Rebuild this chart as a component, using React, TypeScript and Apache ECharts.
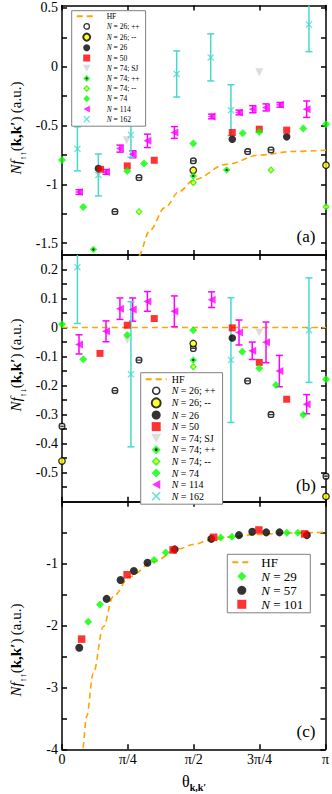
import React, { useEffect, useRef } from 'react';
import * as echarts from 'echarts';

const FONT = 'Liberation Serif';

// ---- axis ticks / labels ----
const xTickLabels = ['0', 'π/4', 'π/2', '3π/4', 'π'];
const yTicksA = [-1.5, -1.25, -1, -0.75, -0.5, -0.25, 0, 0.25, 0.5];
const yLabelsA = [-1.5, -1, -0.5, 0, 0.5];
const yTicksB = [-0.55, -0.5, -0.45, -0.4, -0.35, -0.3, -0.25, -0.2, -0.15, -0.1, -0.05, 0, 0.05, 0.1, 0.15, 0.2];
const yLabelsB = [-0.5, -0.4, -0.3, -0.2, -0.1, 0, 0.1, 0.2];
const yTicksC = [-4, -3.5, -3, -2.5, -2, -1.5, -1, -0.5];
const yLabelsC = [-4, -3, -2, -1];

// ---- panel (a): N f_{↑↑} ----  x in degrees (0..180 = 0..π)
const aHF = [[47, -1.85], [52, -1.61], [60, -1.39], [70, -1.2], [80, -1.06], [90, -0.96], [112, -0.83], [135, -0.75], [158, -0.72], [180, -0.71]];
const aN26pp = [[36.1, -1.232], [52.5, -0.943], [89.5, -0.8], [126.6, -0.721], [142.5, -0.707]];
const aN26mm = [[89.5, -0.88], [180, -0.837]];
const aN26 = [[24.8, -0.865], [116.1, -0.616], [153.2, -0.596]];
const aN50 = [[26.3, -0.872], [44.5, -0.843], [62.9, -0.795], [116.1, -0.559], [134.5, -0.531], [153.2, -0.539]];
const aN74SJ = [[44.1, -0.625], [134.5, -0.048]];
const aN74pp = [[21.4, -1.553], [89.5, -0.928], [112.3, -0.877]];
const aN74mm = [[52.5, -1.232], [89.5, -0.985], [142.5, -0.877], [180, -1.19]];
const aN74 = [[0, -0.792], [14.5, -1.193], [44.5, -0.886], [55.9, -0.823], [89.5, -0.653], [123.2, -0.565], [134.5, -0.554], [164.5, -0.525], [180, -0.488]];
const aN114 = [[11.6, -1.065, 0.02], [30, -0.894, 0.02], [39.5, -0.696, 0.03], [48.2, -0.744, 0.03], [58.2, -0.63, 0.057], [76.6, -0.559, 0.05], [102, -0.423, 0.02], [120.7, -0.389, 0.02], [130, -0.361, 0.03], [139.1, -0.346, 0.03], [148.6, -0.324, 0.02], [166.8, -0.361, 0.07]];
const aN162 = [[10.5, -0.698, 0.187], [24.8, -0.92, 0.178], [47, -0.579, 0.19], [78.2, -0.062, 0.196], [101.4, 0.079, 0.2], [115.2, -0.369, 0.216], [168.4, 0.358, 0.23]];

// ---- panel (b): N f_{↑↓} ----
const bHF = [[0, 0], [180, 0]];
const bN26pp = [[0, -0.34], [36.1, -0.217], [52.5, -0.112], [89.5, -0.072], [126.6, -0.184], [142.5, -0.3], [180, -0.512]];
const bN26mm = [[0, -0.46], [89.5, -0.055], [180, -0.582]];
const bN26 = [[116.1, -0.036]];
const bN50 = [[25.9, -0.089], [44.5, 0.008], [62.9, 0.031], [116.1, -0.001], [134.5, -0.12], [153.2, -0.247]];
const bN74SJ = [[44.5, -0.043], [134.5, -0.017]];
const bN74pp = [[89.5, -0.112]];
const bN74mm = [[89.5, -0.135]];
const bN74 = [[0, 0.011], [14.5, -0.109], [44.5, -0.026], [89.5, -0.009], [122.9, -0.083], [134.5, -0.14], [145.9, -0.198], [164.5, -0.3], [180, -0.178]];
const bN114 = [[11.6, -0.058, 0.033], [30, -0.013, 0.036], [39.5, 0.065, 0.037], [48.2, 0.062, 0.04], [58.2, 0.09, 0.034], [76.6, 0.056, 0.053], [102, 0.096, 0.027], [120.7, -0.017, 0.043], [129.7, -0.08, 0.03], [139.1, -0.051, 0.07], [148.2, -0.15, 0.054], [166.8, -0.264, 0.033]];
const bN162 = [[10.5, 0.208, 0.194], [47, -0.161, 0.25], [115.2, -0.112, 0.215], [168.4, -0.009, 0.18]];

// ---- panel (c): N f_{↑↑} ----
const cHF = [[13.5, -4.3], [14.1, -3.98], [16.8, -3.47], [21.4, -2.77], [28.2, -2.02], [35, -1.53], [46.4, -1.21], [62.3, -0.97], [80, -0.76], [90, -0.69], [101, -0.62], [115, -0.57], [133, -0.53], [155, -0.505], [180, -0.495]];
const cN29 = [[17.9, -1.94], [25.9, -1.66], [62.9, -0.94], [70.9, -0.82], [108.4, -0.58], [116.1, -0.565], [153.6, -0.5], [161.1, -0.5]];
const cN57 = [[11.8, -2.36], [30.5, -1.57], [40, -1.265], [49.1, -1.12], [58.4, -0.985], [77, -0.77], [102, -0.6], [120.9, -0.54], [130, -0.485], [139.5, -0.495], [148.6, -0.495], [167.3, -0.54]];
const cN101 = [[13.4, -2.22], [44.5, -1.18], [75.9, -0.78], [103.6, -0.575], [134.5, -0.457], [165.7, -0.52]];

// ---- colours / symbols ----
const ORANGE = '#FFA500';
const GREEN = '#00FF00';
const MAGENTA = '#FF00FF';
const CYAN = '#48D8D0';
const RED = '#FF0000';
const GRAY = '#D3D3D3';
const YELLOW = '#FFFF00';

const svgImg = (body: string) =>
  'image://data:image/svg+xml;charset=utf-8,' +
  encodeURIComponent(`<svg xmlns="http://www.w3.org/2000/svg" width="20" height="20" viewBox="0 0 20 20">${body}</svg>`);

const SYM_HOLLOW_BAR = svgImg('<circle cx="10" cy="10" r="7.8" fill="white" stroke="black" stroke-width="4"/><line x1="3" y1="10" x2="17" y2="10" stroke="black" stroke-width="3.2"/>');
const SYM_HOLLOW = svgImg('<circle cx="10" cy="10" r="7.8" fill="white" stroke="black" stroke-width="3.6"/>');
const SYM_DIAMOND_DOT = svgImg(`<polygon points="10,0 20,10 10,20 0,10" fill="${GREEN}"/><circle cx="10" cy="10" r="3.2" fill="black"/>`);
const SYM_DIAMOND_YEL = svgImg(`<polygon points="10,0 20,10 10,20 0,10" fill="${GREEN}"/><circle cx="10" cy="10" r="4.2" fill="${YELLOW}"/>`);
const SYM_DOWN_TRI = 'path://M0,0L10,0L5,9Z';
const SYM_LEFT_TRI = 'path://M9,0L9,10L0,5Z';
const SYM_X = 'path://M0,1.3L1.3,0L5,3.7L8.7,0L10,1.3L6.3,5L10,8.7L8.7,10L5,6.3L1.3,10L0,8.7L3.7,5Z';
const SYM_SQUARE = 'path://M0,0L10,0L10,10L0,10Z';
const SYM_DIAMOND = 'path://M5,0L10,5L5,10L0,5Z';

const errRender = (color: string, cap: number) => (params: any, api: any) => {
  const x = api.value(0);
  const y = api.value(1);
  const e = api.value(2);
  const cs = params.coordSys;
  const p1 = api.coord([x, y + e]);
  const p2 = api.coord([x, y - e]);
  const yTop = Math.max(p1[1], cs.y);
  const yBot = Math.min(p2[1], cs.y + cs.height);
  const st = { stroke: color, lineWidth: 1.5 };
  const children: any[] = [{ type: 'line', shape: { x1: p1[0], y1: yTop, x2: p1[0], y2: yBot }, style: st }];
  if (p1[1] >= cs.y) children.push({ type: 'line', shape: { x1: p1[0] - cap, y1: p1[1], x2: p1[0] + cap, y2: p1[1] }, style: st });
  if (p2[1] <= cs.y + cs.height) children.push({ type: 'line', shape: { x1: p2[0] - cap, y1: p2[1], x2: p2[0] + cap, y2: p2[1] }, style: st });
  return { type: 'group', children };
};

export default function App() {
  const ref = useRef<HTMLDivElement>(null);
  useEffect(() => {
    if (!ref.current) return;
    const chart = echarts.init(ref.current, null, { renderer: 'svg' });

    const xAx = (gridIndex: number, position: string, showLabel: boolean) => ({
      type: 'value', gridIndex, position, min: 0, max: 180, interval: 45,
      axisLine: { show: true, onZero: false, lineStyle: { color: '#000', width: 1.5 } },
      axisTick: { show: true, inside: true, length: 5, lineStyle: { color: '#000', width: 1.5 } },
      axisLabel: { show: showLabel, formatter: (v: number) => xTickLabels[Math.round(v / 45)], fontFamily: FONT, fontSize: 14, color: '#000', margin: 3 },
      splitLine: { show: false },
    });
    const yAx = (gridIndex: number, position: string, showLabel: boolean, min: number, max: number, ticks: number[], labels: number[]) => ({
      type: 'value', gridIndex, position, min, max,
      axisLine: { show: true, onZero: false, lineStyle: { color: '#000', width: 1.5 } },
      axisTick: { show: true, inside: true, length: 5, customValues: ticks, lineStyle: { color: '#000', width: 1.5 } },
      axisLabel: { show: showLabel, customValues: labels, fontFamily: FONT, fontSize: 14, color: '#000', margin: 4 },
      splitLine: { show: false },
    });

    const hf = (data: number[][], g: number) => ({
      type: 'line', name: 'HF', data, xAxisIndex: g * 2, yAxisIndex: g * 2, symbol: 'none', smooth: 0.35, smoothMonotone: 'x', clip: true,
      lineStyle: { color: ORANGE, width: 1.6, type: [6, 4] }, itemStyle: { color: 'rgba(0,0,0,0)' }, z: 1,
    });
    const sc = (name: string, data: number[][], g: number, symbol: string, size: number, itemStyle: any, z = 3) => ({
      type: 'scatter', name, data, xAxisIndex: g * 2, yAxisIndex: g * 2, symbol, symbolSize: size, itemStyle, z,
    });
    const eb = (data: number[][], g: number, color: string) => ({
      type: 'custom', name: 'errorbar', data, xAxisIndex: g * 2, yAxisIndex: g * 2, renderItem: errRender(color, 3.5), silent: true, z: 2,
    });

    const panel = (g: number, d: any) => [
      hf(d.hf, g),
      sc('N = 26; ++', d.n26pp, g, SYM_HOLLOW_BAR, 7.5, {}),
      sc('N = 26; --', d.n26mm, g, 'circle', 6.5, { color: YELLOW, borderColor: '#000', borderWidth: 1.3 }),
      sc('N = 26', d.n26, g, 'circle', 7.5, { color: '#000' }),
      sc('N = 50', d.n50, g, SYM_SQUARE, 7, { color: RED }),
      sc('N = 74; SJ', d.n74sj, g, SYM_DOWN_TRI, 8, { color: GRAY }),
      sc('N = 74; ++', d.n74pp, g, SYM_DIAMOND_DOT, 7.5, {}),
      sc('N = 74; --', d.n74mm, g, SYM_DIAMOND_YEL, 7.5, {}),
      sc('N = 74', d.n74, g, SYM_DIAMOND, 8, { color: GREEN }),
      eb(d.n114, g, MAGENTA),
      sc('N = 114', d.n114, g, SYM_LEFT_TRI, 8, { color: MAGENTA }, 4),
      eb(d.n162, g, CYAN),
      sc('N = 162', d.n162, g, SYM_X, 7, { color: CYAN }, 4),
    ];

    const series: any[] = [
      ...panel(0, { hf: aHF, n26pp: aN26pp, n26mm: aN26mm, n26: aN26, n50: aN50, n74sj: aN74SJ, n74pp: aN74pp, n74mm: aN74mm, n74: aN74, n114: aN114, n162: aN162 }),
      ...panel(1, { hf: bHF, n26pp: bN26pp, n26mm: bN26mm, n26: bN26, n50: bN50, n74sj: bN74SJ, n74pp: bN74pp, n74mm: bN74mm, n74: bN74, n114: bN114, n162: bN162 }),
      hf(cHF, 2),
      sc('N = 29', cN29, 2, SYM_DIAMOND, 8, { color: GREEN }),
      sc('N = 57', cN57, 2, 'circle', 8, { color: '#000' }),
      sc('N = 101', cN101, 2, SYM_SQUARE, 7.5, { color: RED }),
    ];

    const hfLeg = { name: 'HF', itemStyle: { opacity: 0 } };
    const legendNames = ['HF', 'N = 26; ++', 'N = 26; --', 'N = 26', 'N = 50', 'N = 74; SJ', 'N = 74; ++', 'N = 74; --', 'N = 74', 'N = 114', 'N = 162'];
    const legData = legendNames.map((n) => (n === 'HF' ? hfLeg : n === 'N = 26; ++' ? { name: n, icon: SYM_HOLLOW } : n));
    const legDataC = [hfLeg, 'N = 29', 'N = 57', 'N = 101'];
    const fmt = (name: string) => (name.startsWith('N') ? `{i|N}{t|${name.slice(1)}}` : `{t|${name}}`);
    const leg = (left: number, top: number, fs: number, iw: number, ih: number, gap: number, data: any[], textPad: number, pad: number[]) => ({
      orient: 'vertical', left, top, padding: pad, itemWidth: iw, itemHeight: ih, itemGap: gap,
      backgroundColor: '#fff', borderColor: '#808080', borderWidth: 1, borderRadius: 0,
      selectedMode: false, data, formatter: fmt,
      textStyle: {
        color: '#000', fontFamily: FONT, fontSize: fs, padding: [0, 0, 0, textPad],
        rich: { i: { fontStyle: 'italic', fontFamily: FONT, fontSize: fs, color: '#000' }, t: { fontFamily: FONT, fontSize: fs, color: '#000' } },
      },
    });

    const titleRich = (fs: number) => ({
      i: { fontStyle: 'italic', fontFamily: FONT, fontSize: fs, fill: '#000', verticalAlign: 'middle', lineHeight: 22 },
      s: { fontFamily: FONT, fontSize: fs * 0.6, fill: '#000', verticalAlign: 'bottom', lineHeight: 22 },
      b: { fontWeight: 'bold', fontFamily: FONT, fontSize: fs, fill: '#000', verticalAlign: 'middle', lineHeight: 22 },
      n: { fontFamily: FONT, fontSize: fs, fill: '#000', verticalAlign: 'middle', lineHeight: 22 },
    });
    const yTitle = (y: number, arrows: string) => ({
      type: 'text', x: 16, y, rotation: Math.PI / 2,
      style: { text: `{i|Nf}{s|${arrows}}{n|(}{b|k,k′}{n|)} {n|(a.u.)}`, rich: titleRich(15), align: 'center', verticalAlign: 'middle' },
    });
    const tag = (y: number, t: string) => ({
      type: 'text', x: 306, y, style: { text: t, fontFamily: FONT, fontSize: 17, fill: '#000', align: 'center', verticalAlign: 'middle' },
    });

    chart.setOption({
      animation: false,
      backgroundColor: '#fff',
      grid: [
        { left: 62, right: 6, top: 5.5, height: 249.5 },
        { left: 62, right: 6, top: 255, height: 246.7 },
        { left: 62, right: 6, top: 501.7, height: 247.6 },
      ],
      xAxis: [xAx(0, 'bottom', false), xAx(0, 'top', false), xAx(1, 'bottom', false), xAx(1, 'top', false), xAx(2, 'bottom', true), xAx(2, 'top', false)],
      yAxis: [
        yAx(0, 'left', true, -1.6, 0.52, yTicksA, yLabelsA), yAx(0, 'right', false, -1.6, 0.52, yTicksA, yLabelsA),
        yAx(1, 'left', true, -0.6, 0.25, yTicksB, yLabelsB), yAx(1, 'right', false, -0.6, 0.25, yTicksB, yLabelsB),
        yAx(2, 'left', true, -4, 0, yTicksC, yLabelsC), yAx(2, 'right', false, -4, 0, yTicksC, yLabelsC),
      ],
      legend: [
        leg(71.7, 10.7, 7.5, 20, 7, 2.2, legData, 5, [1.5, 6, 3, 4]),
        leg(140.7, 372.7, 10, 21, 9, 1.6, legData, 0, [1.5, 7, 3, 4]),
        leg(227.3, 554.3, 13, 19, 9, 1, legDataC, 5, [1.5, 7, 2, 4]),
      ],
      graphic: [
        yTitle(128, '↑↑'), yTitle(365, '↑↓'), yTitle(650, '↑↑'),
        tag(236, '(a)'), tag(485, '(b)'), tag(731, '(c)'),
        {
          type: 'text', x: 194, y: 781,
          style: {
            text: '{t|θ}{s|k,k′}', align: 'center', verticalAlign: 'middle',
            rich: {
              t: { fontFamily: FONT, fontSize: 16, fill: '#000', verticalAlign: 'middle', lineHeight: 22 },
              s: { fontFamily: FONT, fontSize: 10, fontWeight: 'bold', fill: '#000', verticalAlign: 'bottom', lineHeight: 22 },
            },
          },
        },
      ],
      series,
    });
    return () => chart.dispose();
  }, []);
  return <div ref={ref} style={{ position: 'fixed', left: 0, top: 0, width: 332, height: 794 }} />;
}
